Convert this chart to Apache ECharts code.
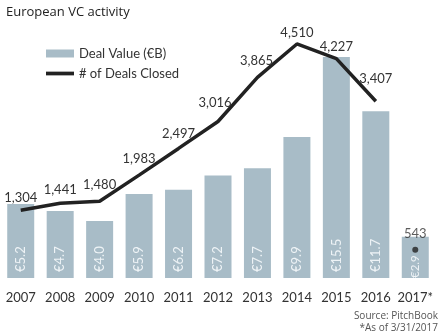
<!DOCTYPE html>
<html><head><meta charset="utf-8">
<script src="https://cdn.jsdelivr.net/npm/echarts@6/dist/echarts.min.js"></script>
<style>html,body{margin:0;padding:0;background:#fff}#c{width:443px;height:336px}</style>
</head><body><div id="c"></div>
<script>
const categories = ['2007','2008','2009','2010','2011','2012','2013','2014','2015','2016','2017*'];
const dealValue = [5.2, 4.7, 4.0, 5.9, 6.2, 7.2, 7.7, 9.9, 15.5, 11.7, 2.9];
const dealsClosed = [1304, 1441, 1480, 1983, 2497, 3016, 3865, 4510, 4227, 3407, null];
const dealsClosed2017 = [null, null, null, null, null, null, null, null, null, null, 543];

// label placement (style only)
const lineLabelDistance = [6, 6, 9, 9, 8, 12, 10, 4, 5, 15];
const lineLabelDx = [0, 0, 0, 0, 0, -3, -1, 0, 0, 0];

const chart = echarts.init(document.getElementById('c'));
const font = 'Lato, "Liberation Sans", sans-serif';
const barData = dealValue.map((v, i) => i === dealValue.length - 1 ? { value: v, label: { distance: 0, fontSize: 11.5 } } : v);
const lineData = dealsClosed.map((v, i) => v == null ? v :
  { value: v, label: { distance: lineLabelDistance[i], offset: [lineLabelDx[i], 0] } });
chart.setOption({
  animation: false,
  title: { text: 'European VC activity', left: 1, top: 1,
    textStyle: { fontFamily: '"Open Sans", sans-serif', fontSize: 13, fontWeight: 'normal', color: '#222' } },
  legend: {
    orient: 'vertical', left: 41, top: 42, itemGap: 7, itemWidth: 28, itemHeight: 8,
    textStyle: { fontFamily: font, fontSize: 13, color: '#333' },
    data: [
      { name: 'Deal Value (€B)', icon: 'rect' },
      { name: '# of Deals Closed', icon: 'path://M0,0 L30,0 L30,4 L0,4 Z', itemStyle: { color: '#222', opacity: 1 } }
    ]
  },
  grid: { left: 1, right: 8, top: 38, bottom: 58 },
  xAxis: {
    type: 'category', data: categories,
    axisLine: { show: false }, axisTick: { show: false },
    axisLabel: { interval: 0, fontFamily: font, fontSize: 13, color: '#333', margin: 13 }
  },
  yAxis: [
    { type: 'value', min: 0, max: 16.84, show: false, splitLine: { show: false } },
    { type: 'value', min: 0, max: 4625, show: false, splitLine: { show: false } }
  ],
  series: [
    { name: 'Deal Value (€B)', type: 'bar', data: barData, barWidth: 27,
      itemStyle: { color: '#a8bcc7' },
      label: { show: true, position: 'insideBottom', rotate: 90, align: 'left', verticalAlign: 'middle',
        distance: 6, overflow: 'none', fontFamily: font, fontSize: 13, color: '#eef3f6',
        formatter: p => '€' + p.value.toFixed(1) } },
    { name: '# of Deals Closed', type: 'line', yAxisIndex: 1, data: lineData,
      symbol: 'circle', symbolSize: 1, showSymbol: true, lineStyle: { color: '#222', width: 3.5 },
      itemStyle: { color: 'rgba(0,0,0,0)' },
      label: { show: true, position: 'top', distance: 8, fontFamily: font, fontSize: 13, color: '#333',
        formatter: p => p.value.toLocaleString('en-US') } },
    { name: '2017', type: 'scatter', yAxisIndex: 1, data: dealsClosed2017,
      symbol: 'circle', symbolSize: 6, itemStyle: { color: '#222' },
      label: { show: true, position: 'top', distance: 7, fontFamily: font, fontSize: 13, color: '#333',
        formatter: p => p.value.toLocaleString('en-US') } }
  ],
  graphic: [
    { type: 'text', right: 5, top: 311, style: { text: 'Source: PitchBook', font: '10px "Open Sans", sans-serif', fill: '#555', textAlign: 'right' } },
    { type: 'text', right: 5, top: 323, style: { text: '*As of 3/31/2017', font: '10px "Open Sans", sans-serif', fill: '#555', textAlign: 'right' } }
  ]
});
</script></body></html>
